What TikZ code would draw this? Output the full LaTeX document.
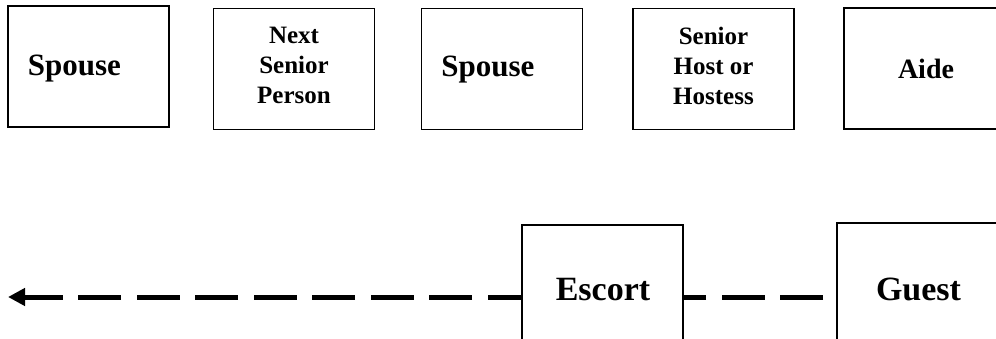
\documentclass[tikz,border=0pt]{standalone}
\usepackage{fontspec}
\setmainfont{Liberation Serif}
\usetikzlibrary{arrows.meta}
\begin{document}
\begin{tikzpicture}[x=1pt,y=-1pt,
  box/.style={draw,line width=1.4pt,inner sep=0pt,minimum width=161pt,minimum height=121pt},
  bigtxt/.style={inner sep=0pt,anchor=base,font=\bfseries\fontsize{31}{36}\selectfont},
  hugetxt/.style={inner sep=0pt,anchor=base,font=\bfseries\fontsize{34}{40}\selectfont},
  smalltxt/.style={inner sep=0pt,anchor=center,align=center,font=\bfseries\fontsize{25}{30}\selectfont},
  dashline/.style={line width=5pt,dash pattern=on 43pt off 15.5pt,-{Triangle[length=17pt,width=17pt]}}
]
\clip (0,0) rectangle (996,339);
\fill[white] (0,0) rectangle (996,339);
% top row
\node[box] (b1) at (88.5,66.5) {};
\node[bigtxt] (t1) at (74.5,76) {Spouse};
\node[box] (b2) at (294,69) {};
\node[smalltxt] (t2) at (294,65.5) {Next\\Senior\\Person};
\node[box] (b3) at (502,69) {};
\node[bigtxt] (t3) at (488,77) {Spouse};
\node[box] (b4) at (713.5,69) {};
\node[smalltxt] (t4) at (713.5,65.5) {Senior\\Host or\\Hostess};
\node[box] (b5) at (924.5,68.5) {};
\node[bigtxt,font=\bfseries\fontsize{28}{34}\selectfont] (t5) at (926,79) {Aide};
% bottom row
\coordinate (lineR) at (823,297);
\coordinate (lineL) at (8,297);
\draw[dashline] (lineR) -- (lineL);
\node[box,fill=white,line width=1.2pt] (escortbox) at (602.5,285.5) {};
\node[hugetxt] (escort) at (603,300) {Escort};
\node[box,fill=white,line width=1.2pt] (guestbox) at (917.5,283.5) {};
\node[hugetxt] (guest) at (918.5,300) {Guest};
\end{tikzpicture}
\end{document}
